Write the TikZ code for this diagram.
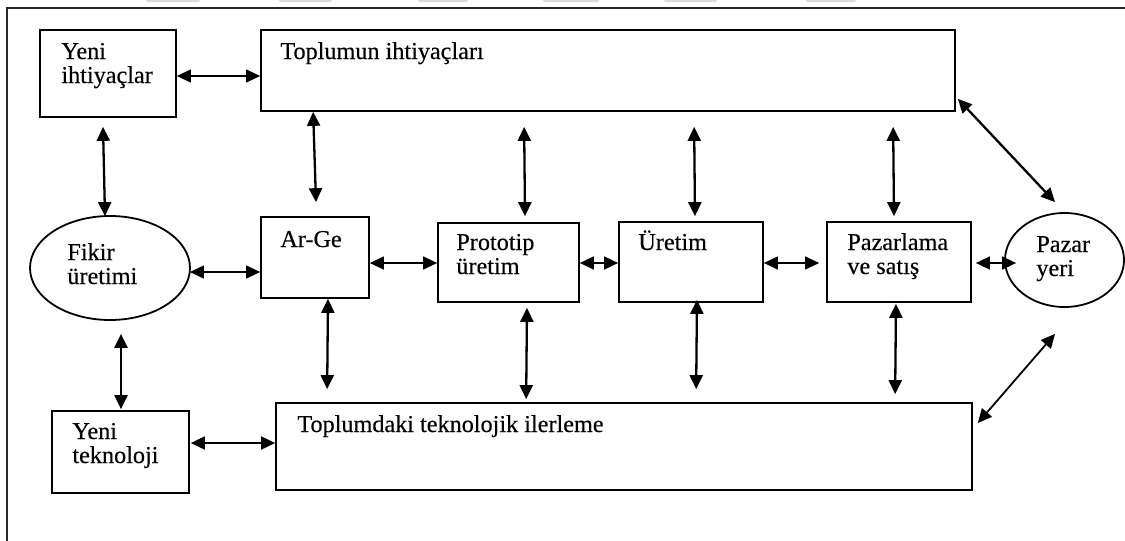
\documentclass[tikz,border=0pt]{standalone}
\usepackage{fontspec}
\setmainfont{Liberation Serif}[FakeBold=0.35]
\usetikzlibrary{arrows.meta,shapes.geometric,calc}
\newcommand\mylines[1]{\begin{tabular}[t]{@{}l@{}}#1\end{tabular}}
\begin{document}
\begin{tikzpicture}[x=0.5pt,y=-0.5pt,
  box/.style={draw,line width=0.85pt,inner sep=0pt,rectangle},
  oval/.style={draw,line width=0.9pt,inner sep=0pt,ellipse},
  lbl/.style={anchor=base west,inner sep=0pt,font=\fontsize{12.1}{12}\selectfont},
  >={Triangle[length=7pt,width=6.5pt]},
  thk/.style={<->,line width=1.15pt},
  thn/.style={<->,line width=0.6pt},
  blob/.style={fill=gray!28,draw=none,rounded corners=1pt}
]
\useasboundingbox (0,0) rectangle (1125,541);
% cropped remnants at top edge
\foreach \a/\b in {146/200,279/332,418/468,543/599,664/717,806/856}
  \path[blob] (\a,-3) rectangle (\b,2);
% frame (cropped)
\draw[line width=0.8pt,black!85] (1125,8) -- (7,8) -- (7,541);

% boxes
\node[box,minimum width=68pt,minimum height=43.5pt] (yi) at (108,73.5) {};
\node[box,minimum width=347pt,minimum height=40.5pt] (ti) at (608,70.5) {};
\node[oval,minimum width=80pt,minimum height=52pt] (fk) at (110,268) {};
\node[box,minimum width=54pt,minimum height=40.5pt] (ag) at (315,257.5) {};
\node[box,minimum width=70.5pt,minimum height=39.5pt] (pt) at (508.5,262.5) {};
\node[box,minimum width=72pt,minimum height=40pt] (ur) at (691,262) {};
\node[box,minimum width=72pt,minimum height=40pt] (ps) at (899,262) {};
\node[oval,minimum width=59.5pt,minimum height=47pt] (py) at (1064.5,260) {};
\node[box,minimum width=68.5pt,minimum height=41pt] (yt) at (120.5,452) {};
\node[box,minimum width=348pt,minimum height=43.5pt] (tt) at (624,446.5) {};

% labels
\node[lbl] (l_yi) at (61,59) {\mylines{Yeni\\ihtiyaçlar}};
\node[lbl] (l_ti) at (280,59) {Toplumun ihtiyaçları};
\node[lbl] (l_fk) at (67,260) {\mylines{Fikir\\üretimi}};
\node[lbl] (l_ag) at (280,247) {Ar-Ge};
\node[lbl] (l_pt) at (456,250) {\mylines{Prototip\\üretim}};
\node[lbl] (l_ur) at (638,250) {Üretim};
\node[lbl] (l_ps) at (847,250) {\mylines{Pazarlama\\ve satış}};
\node[lbl] (l_py) at (1036,252) {\mylines{Pazar\\yeri}};
\node[lbl] (l_yt) at (72,439) {\mylines{Yeni\\teknoloji}};
\node[lbl] (l_tt) at (297,432) {Toplumdaki teknolojik ilerleme};

% connectors
\draw[thn] ($(yi.east)+(0,2.5)$) -- ($(ti.west)+(0,5.5)$);
\draw[thk] ($(yi.south)+(-5,9)$) -- ($(fk.north)+(-5,1)$);
\draw[thn] ($(fk.east)+(-1,4)$) -- ($(ag.west)+(0,14.5)$);
\draw[thk] ($(fk.south)+(11,13)$) -- ($(yt.north)+(0.5,-1)$);
\draw[thk,line width=0.9pt] ($(yt.east)+(1,-9)$) -- ($(tt.west)+(0,-3.5)$);

\draw[thk] ($(ti.south west)+(53,0)$) -- ($(ag.north)+(1,-14)$);
\draw[thk] ($(ti.south west)+(264,15)$) -- ($(pt.north)+(16.5,-6)$);
\draw[thk] ($(ti.south west)+(434,15)$) -- ($(ur.north)+(4,-5)$);
\draw[thk] ($(ti.south west)+(633,15)$) -- ($(ps.north)+(-5,-5)$);

\draw[thn] ($(ag.east)+(0,5.5)$) -- ($(pt.west)+(0,0.5)$);
\draw[thn,line width=0.75pt] ($(pt.east)+(0,0.5)$) -- ($(ur.west)+(0,1)$);
\draw[thn] ($(ur.east)+(0,1)$) -- ($(ps.west)+(-7,1)$);
\draw[thn,line width=0.75pt] ($(ps.east)+(4,1)$) -- ($(py.west)+(12,3)$);

\draw[thk] ($(ag.south)+(13,0)$) -- ($(tt.north west)+(52,-13)$);
\draw[thk] ($(pt.south)+(18.5,5)$) -- ($(tt.north west)+(251,-3)$);
\draw[thk] ($(ur.south)+(6,-3)$) -- ($(tt.north west)+(421,-13)$);
\draw[thk] ($(ps.south)+(-3,1)$) -- ($(tt.north west)+(620,-8)$);

\draw[thk] ($(ti.south east)+(2,-13)$) -- ($(py.north)+(-9.5,-10)$);
\draw[thk,line width=0.9pt] ($(py.south)+(-9.5,26)$) -- ($(tt.east)+(5,-23.5)$);
\end{tikzpicture}
\end{document}
